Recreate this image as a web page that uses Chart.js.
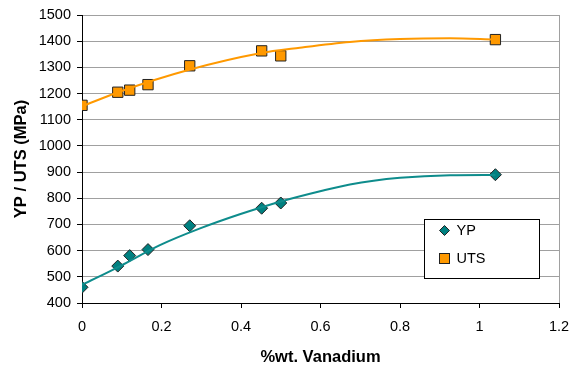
<!DOCTYPE html>
<html lang="en">
<head>
    <meta charset="UTF-8">
    <title>YP / UTS vs Vanadium</title>
    <script src="https://cdn.jsdelivr.net/npm/chart.js"></script>
    <style>
        body {
            margin: 0;
            padding: 0;
            background-color: white;
        }

        .container {
            position: relative;
            width: 577px;
            height: 365px;
        }
    </style>
</head>
<body>
<div class="container">
    <canvas id="vanadium-chart" width="577" height="365"></canvas>
</div>
<script>
    // measured points
    var vanadium = [0, 0.09, 0.12, 0.166, 0.271, 0.452, 0.50, 1.04];
    var ypValues = [460, 541, 581, 604, 695, 762, 782, 890];
    var utsValues = [1155, 1205, 1213, 1234, 1306, 1363, 1344, 1406];

    // trendlines
    var ypTrendX = [0, 0.096, 0.196, 0.297, 0.397, 0.498, 0.599, 0.674, 0.8, 0.926, 1.04];
    var ypTrendY = [469, 541, 621, 685, 739, 787, 827, 853, 878, 888, 889];
    var utsTrendX = [0, 0.096, 0.272, 0.448, 0.548, 0.674, 0.8, 0.926, 1.04];
    var utsTrendY = [1151, 1208, 1292, 1354, 1375, 1397, 1408, 1411, 1406];

    var xTicks = [0, 0.2, 0.4, 0.6, 0.8, 1, 1.2];
    var yMin = 400, yMax = 1500, yStep = 100;

    var seriesNames = ['YP', 'UTS'];
    var tealColor = '#008080';
    var orangeColor = '#FF9900';
    var fontFamily = '"Liberation Sans", Arial, sans-serif';

    function toPoints(xs, ys) {
        var out = [];
        for (var i = 0; i < xs.length; i++) {
            out.push({x: xs[i], y: ys[i]});
        }
        return out;
    }

    var frameAndLegend = {
        id: 'frameAndLegend',
        afterDraw: function (chart) {
            var ctx = chart.ctx;
            var area = chart.chartArea;
            ctx.save();
            // right border of plot
            ctx.strokeStyle = '#a0a0a0';
            ctx.lineWidth = 1;
            ctx.beginPath();
            ctx.moveTo(area.right + 0.5, area.top);
            ctx.lineTo(area.right + 0.5, area.bottom);
            ctx.stroke();

            // legend box
            var bx = area.left + 342.5, by = area.top + 204.5, bw = 115, bh = 59;
            ctx.fillStyle = 'white';
            ctx.fillRect(bx, by, bw, bh);
            ctx.strokeStyle = '#000';
            ctx.strokeRect(bx, by, bw, bh);

            ctx.font = '14.5px ' + fontFamily;
            ctx.textBaseline = 'middle';
            ctx.fillStyle = '#000';
            ctx.fillText(seriesNames[0], bx + 32, by + 11);
            ctx.fillText(seriesNames[1], bx + 32, by + 39);

            // YP diamond
            ctx.fillStyle = tealColor;
            ctx.strokeStyle = '#222';
            ctx.beginPath();
            ctx.moveTo(bx + 20, by + 6);
            ctx.lineTo(bx + 25, by + 11);
            ctx.lineTo(bx + 20, by + 16);
            ctx.lineTo(bx + 15, by + 11);
            ctx.closePath();
            ctx.fill();
            ctx.stroke();

            // UTS square
            ctx.fillStyle = orangeColor;
            ctx.fillRect(bx + 15, by + 34, 10, 10);
            ctx.strokeRect(bx + 15, by + 34, 10, 10);
            ctx.restore();
        }
    };

    var ctx = document.getElementById('vanadium-chart').getContext('2d');
    new Chart(ctx, {
        type: 'scatter',
        data: {
            datasets: [
                {
                    label: 'YP trend',
                    data: toPoints(ypTrendX, ypTrendY),
                    showLine: true,
                    borderColor: '#0E8C8C',
                    borderWidth: 2,
                    pointRadius: 0,
                    tension: 0.4,
                    cubicInterpolationMode: 'monotone'
                },
                {
                    label: 'UTS trend',
                    data: toPoints(utsTrendX, utsTrendY),
                    showLine: true,
                    borderColor: orangeColor,
                    borderWidth: 2,
                    pointRadius: 0,
                    tension: 0.4,
                    cubicInterpolationMode: 'monotone'
                },
                {
                    label: seriesNames[0],
                    data: toPoints(vanadium, ypValues),
                    pointStyle: 'rectRot',
                    pointRadius: 6,
                    backgroundColor: tealColor,
                    borderColor: '#222',
                    borderWidth: 1
                },
                {
                    label: seriesNames[1],
                    data: toPoints(vanadium, utsValues),
                    pointStyle: 'rect',
                    pointRadius: 7.3,
                    backgroundColor: orangeColor,
                    borderColor: '#222',
                    borderWidth: 1
                }
            ]
        },
        options: {
            responsive: false,
            animation: false,
            layout: {
                padding: {top: 15, right: 18, left: 0, bottom: 0}
            },
            plugins: {
                legend: {display: false},
                tooltip: {enabled: false}
            },
            scales: {
                x: {
                    type: 'linear',
                    min: 0,
                    max: 1.2,
                    afterBuildTicks: function (axis) {
                        axis.ticks = xTicks.map(function (v) { return {value: v}; });
                    },
                    afterFit: function (axis) {
                        axis.height = 62;
                        axis.paddingLeft = 0;
                        axis.paddingRight = 0;
                    },
                    ticks: {
                        color: '#000',
                        padding: 10,
                        font: {family: fontFamily, size: 14.5},
                        callback: function (v) { return String(Math.round(v * 10) / 10); }
                    },
                    grid: {
                        drawOnChartArea: false,
                        drawTicks: true,
                        tickLength: 5,
                        tickColor: '#000'
                    },
                    border: {color: '#000', width: 1},
                    title: {
                        display: true,
                        text: '%wt. Vanadium',
                        color: '#000',
                        font: {family: fontFamily, size: 16.5, weight: 'bold'},
                        padding: {top: 0, bottom: -2}
                    }
                },
                y: {
                    min: yMin,
                    max: yMax,
                    afterFit: function (axis) {
                        axis.width = 82;
                        axis.paddingTop = 0;
                        axis.paddingBottom = 0;
                    },
                    ticks: {
                        stepSize: yStep,
                        color: '#000',
                        padding: 6,
                        font: {family: fontFamily, size: 14.5},
                        callback: function (v) { return String(v); }
                    },
                    grid: {
                        color: '#a0a0a0',
                        tickLength: 5,
                        tickColor: '#000'
                    },
                    border: {color: '#000', width: 1},
                    title: {
                        display: true,
                        text: 'YP / UTS (MPa)',
                        color: '#000',
                        font: {family: fontFamily, size: 16.5, weight: 'bold'},
                        padding: {top: 12, bottom: 0}
                    }
                }
            }
        },
        plugins: [frameAndLegend]
    });
</script>
</body>
</html>
